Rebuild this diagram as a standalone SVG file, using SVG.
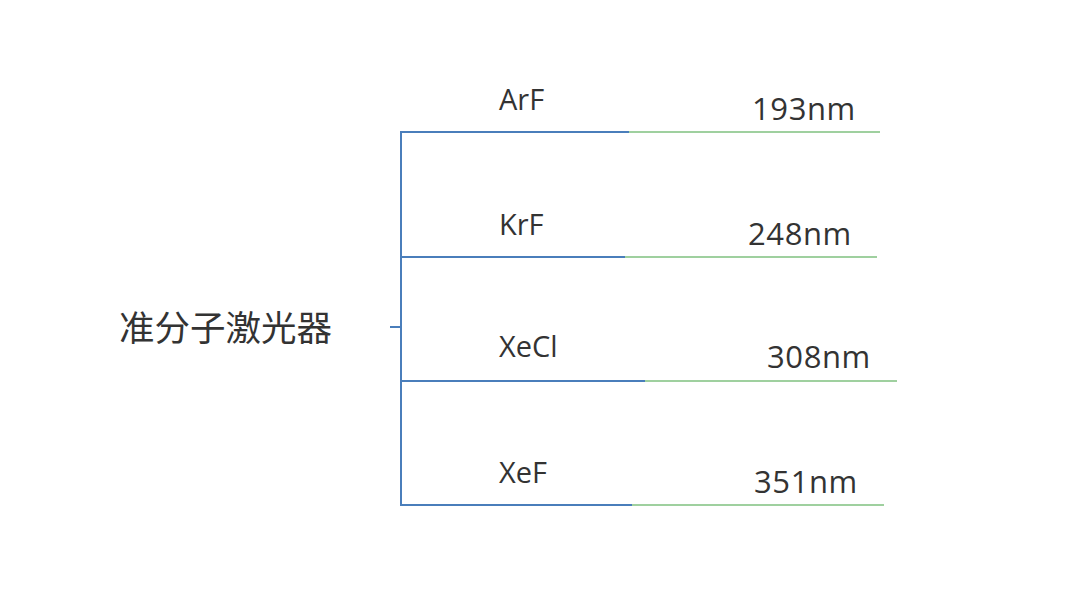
<svg xmlns="http://www.w3.org/2000/svg" width="1080" height="608" viewBox="0 0 1080 608">
<style>
.t{font-family:"Open Sans","Liberation Sans",sans-serif;font-size:29px;fill:#333}
.n{font-family:"Open Sans","Liberation Sans",sans-serif;font-size:31px;letter-spacing:0.6px;fill:#333}
.c{font-family:"Noto Sans CJK SC",sans-serif;font-size:35.5px;fill:#333}
.b{stroke:#4a7ebb;stroke-width:2;fill:none}
.g{stroke:#9fd09f;stroke-width:2;fill:none}
</style>
<rect width="1080" height="608" fill="#fff"/>
<g id="connectors">
<line class="b" x1="390" y1="327" x2="401" y2="327"/>
<line class="b" x1="401" y1="131" x2="401" y2="506"/>
<line class="b" x1="401" y1="132" x2="629" y2="132"/>
<line class="g" x1="629" y1="132" x2="880" y2="132"/>
<line class="b" x1="401" y1="257" x2="625" y2="257"/>
<line class="g" x1="625" y1="257" x2="877" y2="257"/>
<line class="b" x1="401" y1="381" x2="645" y2="381"/>
<line class="g" x1="645" y1="381" x2="897" y2="381"/>
<line class="b" x1="401" y1="505" x2="632" y2="505"/>
<line class="g" x1="632" y1="505" x2="884" y2="505"/>
</g>
<g id="root"><text class="c" x="119" y="341">准分子激光器</text></g>
<g id="arf"><text class="t" x="499" y="110">ArF</text><text class="n" x="752" y="120">193nm</text></g>
<g id="krf"><text class="t" x="499" y="235">KrF</text><text class="n" x="748" y="245">248nm</text></g>
<g id="xecl"><text class="t" x="499" y="357">XeCl</text><text class="n" x="767" y="368">308nm</text></g>
<g id="xef"><text class="t" x="499" y="483">XeF</text><text class="n" x="754" y="493">351nm</text></g>
</svg>
